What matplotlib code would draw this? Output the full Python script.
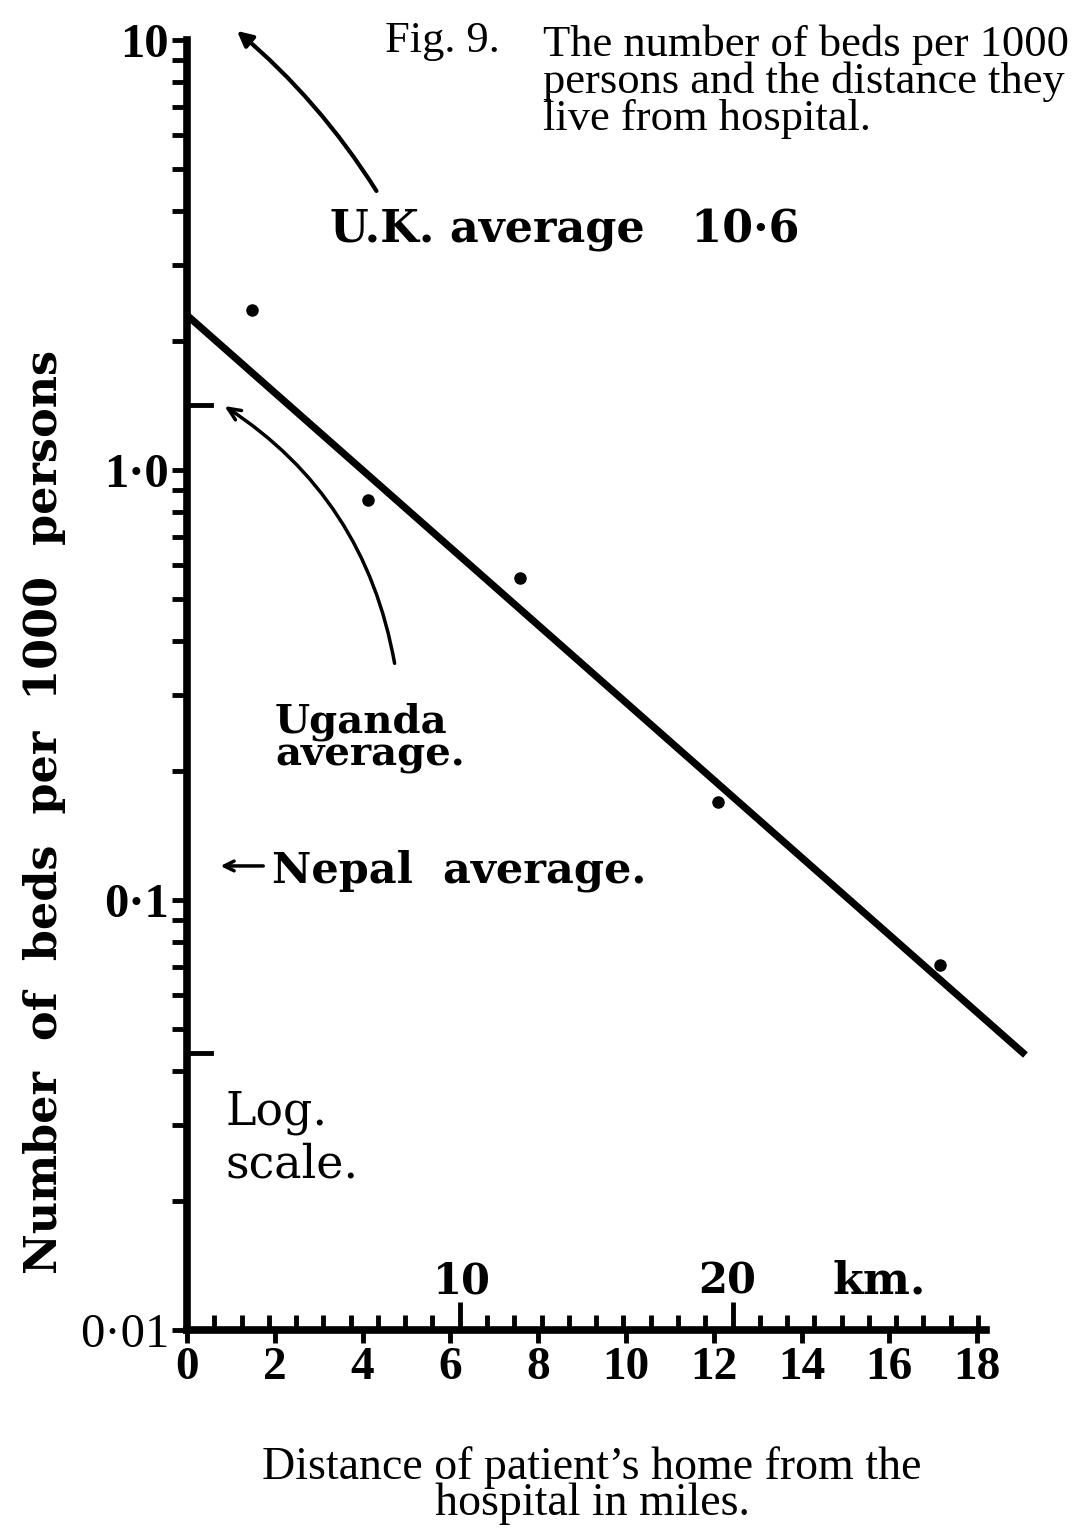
import numpy as np
import matplotlib
matplotlib.use("Agg")
import matplotlib.pyplot as plt
from matplotlib.ticker import LogLocator, NullFormatter, FixedLocator

# ---------------- data ----------------
dist_miles = [1.48, 4.12, 7.59, 12.1, 17.15]          # observed points
beds_per_1000 = [2.36, 0.85, 0.56, 0.169, 0.0706]

fit_miles = [0.0, 19.1]                                 # fitted line
fit_beds = [2.29, 0.0436]

uk_average = 10.6
uganda_average = 1.42
nepal_average = 0.12
extra_mark = 0.044

y_ticks = [0.01, 0.1, 1.0, 10.0]
y_tick_labels = ["0·01", "0·1", "1·0", "10"]
x_ticks = [0, 2, 4, 6, 8, 10, 12, 14, 16, 18]
x_tick_labels = [str(v) for v in x_ticks]
km_ticks = list(range(1, 30))
km_major = [10, 20]
MILE_KM = 1.609344

SERIF = ["Liberation Serif", "DejaVu Serif"]
WIDE = ["DejaVu Serif"]
plt.rcParams["font.family"] = SERIF

W, H = 1090, 1532
fig = plt.figure(figsize=(W / 100, H / 100), dpi=100)
fig.patch.set_facecolor("white")


def px(x, y):
    return x / W, 1 - y / H


ax = fig.add_axes([187 / W, 1 - 1330 / H, 856 / W, 1290 / H])
ax.set_yscale("log")
ax.set_ylim(0.01, 10)
ax.set_xlim(0, 19.5)

for s in ["top", "right"]:
    ax.spines[s].set_visible(False)
ax.spines["left"].set_linewidth(5.5)
ax.spines["bottom"].set_linewidth(5.5)
ax.spines["left"].set_bounds(0.01, 10)
ax.spines["bottom"].set_bounds(0, 18.2)
ax.spines["left"].set_capstyle("projecting")

# y ticks
ax.set_yticks(y_ticks, labels=y_tick_labels)
ax.yaxis.set_minor_locator(LogLocator(base=10, subs=np.arange(2, 10)))
ax.yaxis.set_minor_formatter(NullFormatter())
ax.tick_params(axis="y", which="major", direction="out", length=11, width=3.5,
               labelsize=35, pad=2)
ax.tick_params(axis="y", which="minor", direction="out", length=11, width=3.5)
for lab, txt in zip(ax.get_yticklabels(), y_tick_labels):
    lab.set_fontweight("normal" if txt == "0·01" else "bold")

# x ticks (miles, below) and km ticks (above, inside)
ax.set_xticks(x_ticks, labels=x_tick_labels)
km_minor_pos = [k / MILE_KM for k in km_ticks if k not in km_major]
ax.xaxis.set_minor_locator(FixedLocator(km_minor_pos))
ax.tick_params(axis="x", which="major", direction="out", length=9, width=3.5,
               labelsize=34, pad=3)
ax.tick_params(axis="x", which="minor", direction="in", length=11, width=3.5)
for lab in ax.get_xticklabels():
    lab.set_fontweight("bold")

sec = ax.secondary_xaxis(0, functions=(lambda m: m * MILE_KM, lambda k: k / MILE_KM))
sec.set_xticks(km_major)
sec.tick_params(axis="x", direction="in", length=20, width=3.5, labelbottom=False)
sec.spines["bottom"].set_visible(False)

# data
ax.plot(fit_miles, fit_beds, color="black", lw=5.2, solid_capstyle="butt", clip_on=False)
ax.plot(dist_miles, beds_per_1000, "o", color="black", ms=8, clip_on=False)

# average markers on the axis
for val in [uganda_average, extra_mark]:
    ax.plot([0, 0.55], [val, val], color="black", lw=3.5, clip_on=False)

# arrows
ax.annotate("", xy=(1.09, uk_average), xytext=(4.35, 4.4),
            arrowprops=dict(arrowstyle="-|>,head_length=0.9,head_width=0.45",
                            lw=3, color="black", connectionstyle="arc3,rad=0.08"),
            annotation_clip=False)
ax.annotate("", xy=(0.8, uganda_average), xytext=(4.74, 0.35),
            arrowprops=dict(arrowstyle="->,head_length=0.9,head_width=0.4",
                            lw=2.5, color="black", connectionstyle="arc3,rad=0.22"),
            annotation_clip=False)
ax.annotate("", xy=(0.7, nepal_average), xytext=(1.8, nepal_average),
            arrowprops=dict(arrowstyle="->,head_length=0.7,head_width=0.35",
                            lw=2.5, color="black"),
            annotation_clip=False)

# texts (multi-line texts: y = baseline of the last line)
fig.text(*px(385, 52), "Fig. 9.", fontsize=32, ha="left", va="baseline")
fig.text(*px(543, 130),
         "The number of beds per 1000\npersons and the distance they\nlive from hospital.",
         fontsize=32, ha="left", va="baseline", linespacing=0.9)
fig.text(*px(330, 243), "U.K. average   10·6", fontsize=32, fontweight="bold",
         family=WIDE, ha="left", va="baseline")
fig.text(*px(275, 765), "Uganda\naverage.", fontsize=29, fontweight="bold",
         family=WIDE, ha="left", va="baseline", linespacing=0.8)
fig.text(*px(272, 883), "Nepal  average.", fontsize=31, fontweight="bold",
         family=WIDE, ha="left", va="baseline")
fig.text(*px(225, 1177), "Log.\nscale.", fontsize=33, family=WIDE,
         ha="left", va="baseline", linespacing=1.2)
fig.text(*px(462, 1293), "10", fontsize=30, fontweight="bold", family=WIDE,
         ha="center", va="baseline")
fig.text(*px(727, 1293), "20", fontsize=30, fontweight="bold", family=WIDE,
         ha="center", va="baseline")
fig.text(*px(833, 1293), "km.", fontsize=32, fontweight="bold", family=WIDE,
         ha="left", va="baseline")
fig.text(*px(45, 812), "Number  of  beds  per  1000  persons", fontsize=32,
         fontweight="bold", family=WIDE, rotation=90, ha="center", va="center")
fig.text(*px(592, 1515), "Distance of patient’s home from the\nhospital in miles.",
         fontsize=33, ha="center", va="baseline", linespacing=0.8)

fig.savefig("out.png", dpi=100, facecolor="white")
